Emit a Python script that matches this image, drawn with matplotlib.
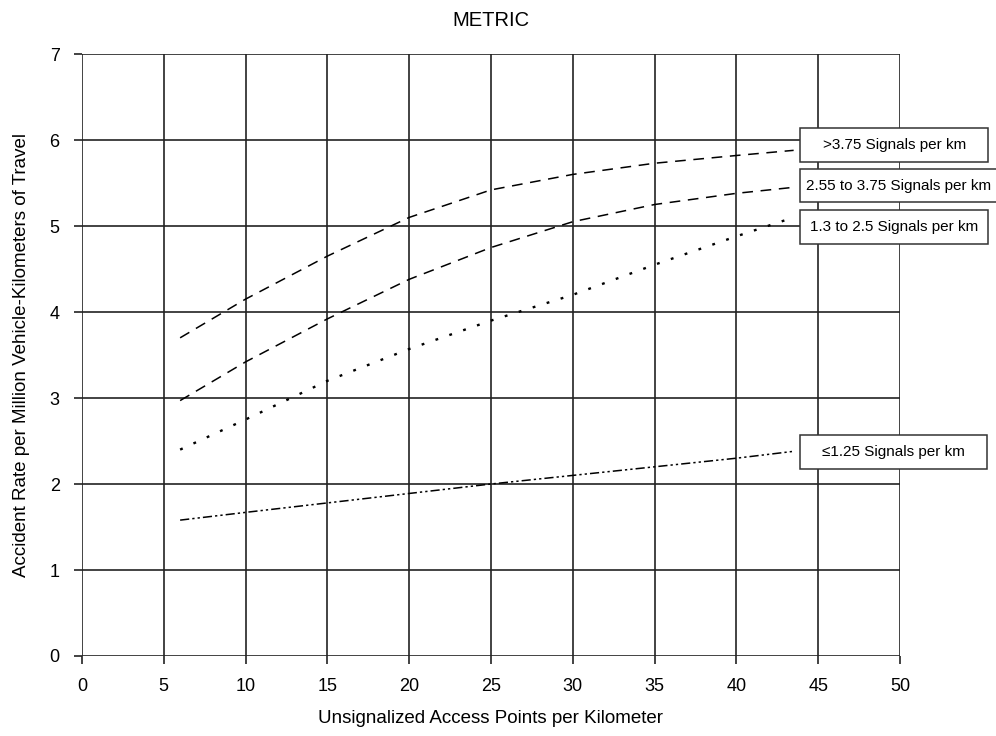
import matplotlib
matplotlib.use("Agg")
import matplotlib.pyplot as plt
from matplotlib.patches import Rectangle

plt.rcParams['font.family'] = ['Liberation Sans', 'DejaVu Sans']

# access points per km
x_pts = [6, 10, 15, 20, 25, 30, 35, 40, 43.5]

# accident rates
rate_high = [3.70, 4.15, 4.65, 5.10, 5.42, 5.60, 5.73, 5.82, 5.88]
rate_mid = [2.97, 3.42, 3.92, 4.38, 4.75, 5.05, 5.25, 5.38, 5.45]
rate_low = [2.40, 2.75, 3.20, 3.57, 3.90, 4.20, 4.55, 4.88, 5.10]
rate_min = [1.58, 1.67, 1.78, 1.89, 2.00, 2.10, 2.20, 2.30, 2.38]

labels = [">3.75 Signals per km", "2.55 to 3.75 Signals per km",
          "1.3 to 2.5 Signals per km", "\u22641.25 Signals per km"]

# label box layout (data units)
box_y = [5.94, 5.47, 4.99, 2.37]
box_w = [11.5, 12.0, 11.5, 11.4]
box_x0 = 43.9
box_h = 0.39

fig = plt.figure(figsize=(9.96, 7.36), dpi=100)
ax = fig.add_axes([0.0823, 0.1087, 0.8213, 0.8179])

styles = [(0, (7, 5)), (0, (7, 5)), (0, (1.2, 5)), (0, (6, 2, 1.5, 2, 1.5, 2))]
widths = [1.1, 1.1, 1.7, 1.1]
series = [rate_high, rate_mid, rate_low, rate_min]
for ys, ls, lw, lab, by, bw in zip(series, styles, widths, labels, box_y, box_w):
    ax.plot(x_pts, ys, color='black', lw=lw, linestyle=ls)
    ax.add_patch(Rectangle((box_x0, by - box_h / 2), bw, box_h, fc='white',
                           ec='#333333', lw=1.1, clip_on=False, zorder=5))
    ax.text(box_x0 + bw / 2, by, lab, ha='center', va='center', fontsize=11,
            clip_on=False, zorder=6)

ax.set_xlim(0, 50)
ax.set_ylim(0, 7)
ax.set_xticks(range(0, 51, 5))
ax.set_yticks(range(0, 8))
ax.grid(True, color='#222222', lw=1.2)
for s in ax.spines.values():
    s.set_visible(False)
ax.tick_params(length=6, width=1.2, color='#222222', labelsize=13, pad=10)

ax.set_xlabel("Unsignalized Access Points per Kilometer", fontsize=13.5, labelpad=11)
ax.set_ylabel("Accident Rate per Million Vehicle-Kilometers of Travel", fontsize=13.5, labelpad=14)
ax.set_title("METRIC", fontsize=14.5, pad=20)

fig.savefig("out.png", dpi=100)
